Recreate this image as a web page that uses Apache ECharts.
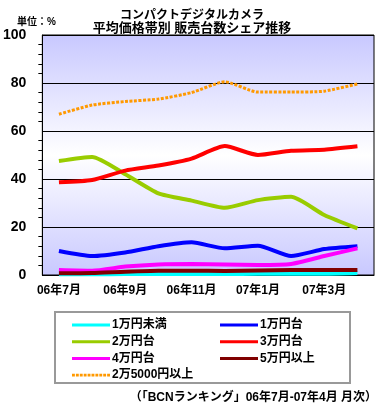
<!DOCTYPE html>
<html><head><meta charset="utf-8">
<script src="https://cdn.jsdelivr.net/npm/echarts@6/dist/echarts.min.js"></script>
<style>html,body{margin:0;padding:0;background:#fff}#c{width:384px;height:406px}</style>
</head><body><div id="c"></div>
<script>
var categories = ['06年7月','06年8月','06年9月','06年10月','06年11月','06年12月','07年1月','07年2月','07年3月','07年4月'];
var yTicks = [0,20,40,60,80,100];
var seriesNames = ['1万円未満','1万円台','2万円台','3万円台','4万円台','5万円以上','2万5000円以上'];
var under1 = [0.3,0.3,0.4,0.4,0.4,0.4,0.5,0.5,0.5,0.8];
var man1 = [10.0,7.9,9.4,12.0,13.6,11.1,12.2,7.9,10.8,12.0];
var man2 = [47.5,49.2,42.0,34.0,31.0,28.0,31.2,32.6,25.0,19.4];
var man3 = [38.6,39.6,43.5,45.6,48.5,53.7,50.0,51.8,52.2,53.6];
var man4 = [2.1,1.8,3.5,4.4,4.6,4.4,4.2,4.6,7.9,11.1];
var man5 = [0.7,0.8,1.4,1.8,1.8,1.7,1.9,2.1,2.1,2.1];
var man25 = [67.0,70.8,72.3,73.3,76.0,80.5,76.2,76.2,76.6,79.6];

var FF = 'Liberation Sans, Noto Sans CJK JP, sans-serif';
var colors = ['#00ffff','#0000ff','#99cc00','#ff0000','#ff00ff','#800000','#ff9900'];
var dataList = [under1, man1, man2, man3, man4, man5, man25];

var chart = echarts.init(document.getElementById('c'), null, {renderer:'canvas'});
var series = dataList.map(function(d,i){
  return {
    name: seriesNames[i], type:'line', data:d, smooth:0.2,
    symbol:'none', showSymbol:false,
    lineStyle: i===6 ? {color:colors[i], width:3, type:[3,1.5]} : {color:colors[i], width:4},
    itemStyle:{color:colors[i]},
    z: i===6 ? 3 : 2
  };
});
var solidIcon = 'path://M0,5 L38,5 L38,8 L0,8 Z';
var dotPath = 'path://';
for (var k = 0; k < 10; k++) { var x0 = k * 3.8; dotPath += 'M' + x0 + ',5 h2.8 v2.6 h-2.8 Z '; }
var legendCommon = {
  orient:'vertical', itemWidth:38, itemHeight:12, itemGap:4.7, icon: solidIcon,
  textStyle:{fontFamily:FF, fontWeight:'bold', fontSize:12, color:'#000', padding:[0,0,0,-3]}
};
chart.setOption({
  animation:false,
  color: colors,
  title:{
    text:'{a|コンパクトデジタルカメラ}\n{b|平均価格帯別 販売台数シェア推移}',
    left:'center', top:4,
    textStyle:{rich:{
      a:{fontFamily:FF, fontWeight:'bold', fontSize:12, lineHeight:13, color:'#000'},
      b:{fontFamily:FF, fontWeight:'bold', fontSize:13, lineHeight:13, color:'#000'}
    }}
  },
  graphic:[
    {type:'text', left:17, top:17, style:{text:'単位：%', font:'bold 10px '+FF, fill:'#000'}},
    {type:'rect', shape:{x:55, y:312, width:295, height:71}, style:{fill:'none', stroke:'#999', lineWidth:2}},
    {type:'text', right:7, top:392, style:{text:'（「BCNランキング」06年7月-07年4月 月次）', font:'bold 12px '+FF, fill:'#000'}}
  ],
  legend:[
    Object.assign({}, legendCommon, {left:67, top:314, data:[seriesNames[0],seriesNames[2],seriesNames[4],{name:seriesNames[6], icon:dotPath}]}),
    Object.assign({}, legendCommon, {left:215, top:314, data:[seriesNames[1],seriesNames[3],seriesNames[5]]})
  ],
  grid:{left:41, right:10, top:35, bottom:131, show:true, borderColor:'#000', borderWidth:1,
    backgroundColor:{type:'linear', x:0, y:0, x2:0, y2:1, colorStops:[
      {offset:0, color:'#c8c8ff'},{offset:0.5, color:'#ffffff'},{offset:1, color:'#c8c8ff'}]}},
  xAxis:{
    type:'category', data:categories, boundaryGap:true,
    axisLine:{show:true, lineStyle:{color:'#000', width:1}},
    axisTick:{show:false},
    axisLabel:{interval:1, color:'#000', fontFamily:FF, fontWeight:'bold', fontSize:12, margin:10}
  },
  yAxis:{
    type:'value', min:yTicks[0], max:yTicks[yTicks.length-1], interval:20,
    axisLine:{show:true, lineStyle:{color:'#000', width:1}},
    axisTick:{show:true, inside:true, length:4, lineStyle:{color:'#000'}},
    minorTick:{show:true, splitNumber:5, length:-4, lineStyle:{color:'#000'}},
    splitLine:{show:true, lineStyle:{color:'#000', width:1}},
    axisLabel:{color:'#000', fontFamily:FF, fontWeight:'bold', fontSize:14, margin:16}
  },
  series: series
});
</script></body></html>
